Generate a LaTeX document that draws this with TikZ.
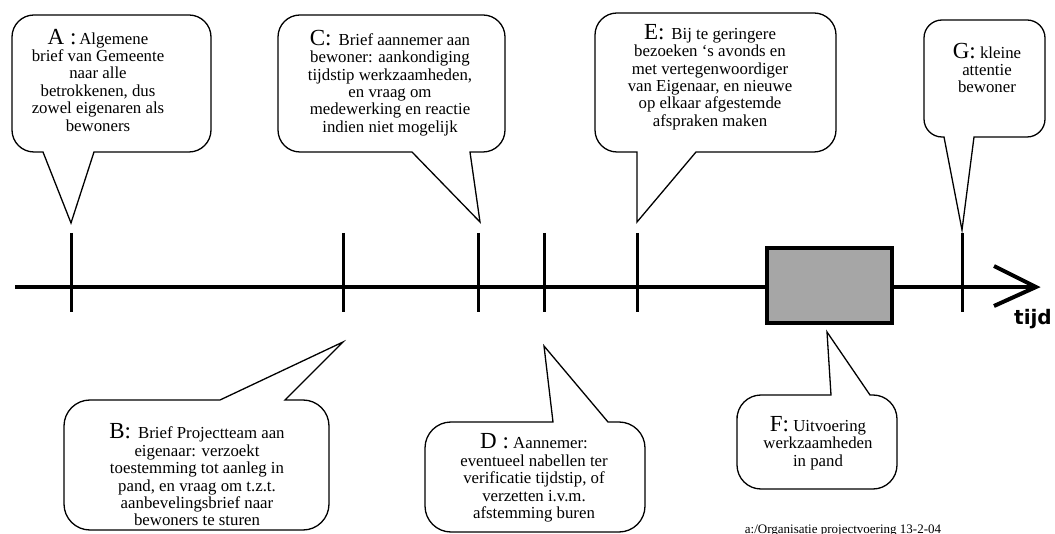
\documentclass[tikz,border=0pt]{standalone}
\usepackage{fontspec}
\setmainfont{Liberation Serif}
\newfontfamily\tijdfont{DejaVu Sans Bold}
\definecolor{boxgray}{RGB}{166,166,166}
\newcommand{\biglet}[1]{{\fontsize{23}{23}\selectfont #1}}
\begin{document}
\begin{tikzpicture}[x=1pt,y=-1pt,
  bubble/.style={draw, line width=1.3pt, fill=white, line join=miter},
  txt/.style={inner sep=0pt, align=center, font=\rmfamily\fontsize{16.8}{17.4}\selectfont},
  axis/.style={line width=4pt},
  tick/.style={line width=3pt}]
\useasboundingbox (0,0) rectangle (1055,534);
% axis
\coordinate (ax0) at (15,287);
\coordinate (ax1) at (1036,287);
\draw[axis] (ax0) -- (ax1);
\draw[axis, line join=miter] (994,266) -- (ax1) -- (994,306);
\node[anchor=base, font=\tijdfont\fontsize{20}{20}\selectfont] (tijd) at (1033,325) {tijd};
% ticks
\foreach \n/\x in {a/71,b/343,c/478,d/544,e/637,g/962}{
  \coordinate (t\n top) at (\x,233);
  \coordinate (t\n bot) at (\x,312);
  \draw[tick] (t\n top) -- (t\n bot);
}
% work box
\node[draw, line width=4pt, fill=boxgray, minimum width=125pt, minimum height=75pt, inner sep=0pt] (work) at (829.5,286) {};
% A
\draw[bubble] (12,90) [rounded corners=22pt] -- (12,152) [sharp corners] -- (43,152) -- (71,223) -- (94,152) [rounded corners=22pt] -- (211,152) -- (211,15) -- (12,15) -- cycle;
\node[txt] (ta) at (98,80) {\biglet{A :}\,Algemene\\brief van Gemeente\\naar alle\\betrokkenen, dus\\zowel eigenaren als\\bewoners};
% C
\draw[bubble] (278,90) [rounded corners=22pt] -- (278,152) [sharp corners] -- (412,152) -- (480,222) -- (470,152) [rounded corners=22pt] -- (505,152) -- (505,15) -- (278,15) -- cycle;
\node[txt] (tc) at (390,83) {\biglet{C:}\, Brief aannemer aan\\bewoner: aankondiging\\tijdstip werkzaamheden,\\en vraag om\\medewerking en reactie\\indien niet mogelijk};
% E
\draw[bubble] (595,90) [rounded corners=22pt] -- (595,152) [sharp corners] -- (637,152) -- (637,222) -- (696,152) [rounded corners=22pt] -- (836,152) -- (836,13) -- (595,13) -- cycle;
\node[txt] (te) at (710,77) {\biglet{E:}\, Bij te geringere\\bezoeken ‘s avonds en\\met vertegenwoordiger\\van Eigenaar, en nieuwe\\op elkaar afgestemde\\afspraken maken};
% G
\draw[bubble] (924,80) [rounded corners=18pt] -- (924,137) [sharp corners] -- (944,137) -- (962,230) -- (974,137) [rounded corners=18pt] -- (1045,137) -- (1045,20) -- (924,20) -- cycle;
\node[txt] (tg) at (987,68) {\biglet{G:} kleine\\attentie\\bewoner};
% B
\draw[bubble] (64,470) [rounded corners=26pt] -- (64,400) [sharp corners] -- (220,400) -- (343,342) -- (285,400) [rounded corners=26pt] -- (329,400) -- (329,530) -- (64,530) -- cycle;
\node[txt] (tb) at (197,475) {\biglet{B:}\, Brief Projectteam aan\\eigenaar: verzoekt\\toestemming tot aanleg in\\pand, en vraag om t.z.t.\\aanbevelingsbrief naar\\bewoners te sturen};
% D
\draw[bubble] (425,480) [rounded corners=26pt] -- (425,422) [sharp corners] -- (553,422) -- (544,346) -- (608,422) [rounded corners=26pt] -- (645,422) -- (645,532) -- (425,532) -- cycle;
\node[txt] (td) at (534,478) {\biglet{D :} Aannemer:\\eventueel nabellen ter\\verificatie tijdstip, of\\verzetten i.v.m.\\afstemming buren};
% F
\draw[bubble] (737,440) [rounded corners=24pt] -- (737,395) [sharp corners] -- (831,395) -- (827,332) -- (870,395) [rounded corners=24pt] -- (897,395) -- (897,489) -- (737,489) -- cycle;
\node[txt] (tf) at (818,443) {\biglet{F:} Uitvoering\\werkzaamheden\\in pand};
% footer
\node[anchor=base, inner sep=0pt, font=\rmfamily\fontsize{13}{13}\selectfont] (foot) at (843,533) {a:/Organisatie projectvoering 13-2-04};
\end{tikzpicture}
\end{document}
